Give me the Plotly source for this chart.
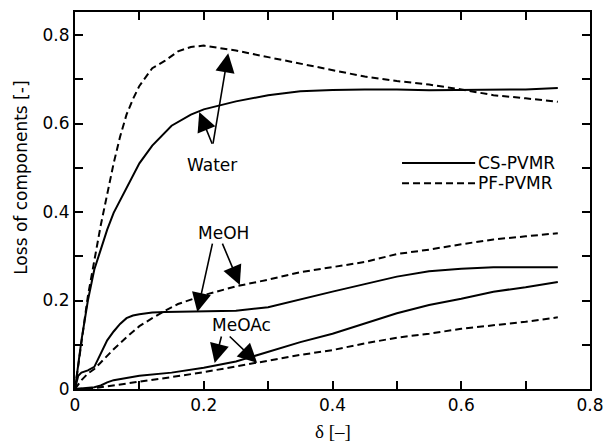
import plotly.graph_objects as go

# Water loss
water_cs_x = [0, 0.01, 0.02, 0.03, 0.04, 0.05, 0.06, 0.08, 0.10, 0.12, 0.15, 0.18, 0.20,
              0.25, 0.30, 0.35, 0.40, 0.45, 0.50, 0.55, 0.60, 0.65, 0.70, 0.75]
water_cs_y = [0, 0.11, 0.20, 0.27, 0.315, 0.36, 0.398, 0.455, 0.51, 0.55, 0.595, 0.62, 0.632,
              0.65, 0.664, 0.673, 0.676, 0.677, 0.677, 0.675, 0.676, 0.677, 0.677, 0.68]
water_pf_x = [0, 0.01, 0.02, 0.03, 0.04, 0.05, 0.06, 0.07, 0.08, 0.09, 0.10, 0.12, 0.14,
              0.16, 0.18, 0.20, 0.22, 0.25, 0.30, 0.35, 0.40, 0.45, 0.50, 0.55, 0.60,
              0.65, 0.70, 0.75]
water_pf_y = [0, 0.11, 0.21, 0.29, 0.37, 0.44, 0.51, 0.57, 0.62, 0.655, 0.685, 0.725, 0.742,
              0.763, 0.773, 0.776, 0.772, 0.765, 0.75, 0.735, 0.72, 0.706, 0.696, 0.688,
              0.677, 0.664, 0.657, 0.649]

# Methanol loss
meoh_cs_x = [0, 0.005, 0.01, 0.02, 0.03, 0.04, 0.05, 0.06, 0.07, 0.08, 0.09, 0.10, 0.12,
             0.14, 0.20, 0.25, 0.30, 0.35, 0.40, 0.45, 0.50, 0.55, 0.60, 0.65, 0.70, 0.75]
meoh_cs_y = [0, 0.03, 0.037, 0.042, 0.05, 0.08, 0.11, 0.13, 0.147, 0.16, 0.166, 0.169, 0.173,
             0.174, 0.175, 0.177, 0.185, 0.203, 0.22, 0.237, 0.254, 0.266, 0.272, 0.275,
             0.275, 0.275]
meoh_pf_x = [0, 0.01, 0.02, 0.03, 0.04, 0.06, 0.08, 0.10, 0.12, 0.14, 0.16, 0.18, 0.20,
             0.25, 0.30, 0.35, 0.40, 0.45, 0.50, 0.55, 0.60, 0.65, 0.70, 0.75]
meoh_pf_y = [0, 0.02, 0.035, 0.045, 0.06, 0.09, 0.117, 0.142, 0.16, 0.177, 0.192, 0.202,
             0.212, 0.232, 0.247, 0.264, 0.275, 0.287, 0.305, 0.315, 0.327, 0.338, 0.345,
             0.352]

# Methyl acetate loss
meoac_cs_x = [0, 0.02, 0.03, 0.04, 0.05, 0.06, 0.08, 0.10, 0.15, 0.20, 0.25, 0.30, 0.35,
              0.40, 0.45, 0.50, 0.55, 0.60, 0.65, 0.70, 0.75]
meoac_cs_y = [0, 0.002, 0.004, 0.008, 0.015, 0.02, 0.025, 0.03, 0.037, 0.048, 0.062, 0.084,
              0.106, 0.125, 0.148, 0.171, 0.19, 0.204, 0.22, 0.23, 0.242]
meoac_pf_x = [0, 0.03, 0.05, 0.07, 0.10, 0.15, 0.20, 0.25, 0.30, 0.35, 0.40, 0.45, 0.50,
              0.55, 0.60, 0.65, 0.70, 0.75]
meoac_pf_y = [0, 0.002, 0.006, 0.01, 0.016, 0.027, 0.038, 0.051, 0.065, 0.077, 0.088,
              0.103, 0.116, 0.125, 0.136, 0.144, 0.152, 0.162]

tick_vals = [0, 0.1, 0.2, 0.3, 0.4, 0.5, 0.6, 0.7, 0.8]
tick_text = ["0", "", "0.2", "", "0.4", "", "0.6", "", "0.8"]

series_labels = ["CS-PVMR", "PF-PVMR"]

FONT = "DejaVu Sans"
SOLID = dict(color="black", width=2)
DASHED = dict(color="black", width=2, dash="7px,4px")

fig = go.Figure()
for xs, ys, ln in [
    (water_cs_x, water_cs_y, SOLID), (water_pf_x, water_pf_y, DASHED),
    (meoh_cs_x, meoh_cs_y, SOLID), (meoh_pf_x, meoh_pf_y, DASHED),
    (meoac_cs_x, meoac_cs_y, SOLID), (meoac_pf_x, meoac_pf_y, DASHED),
]:
    fig.add_trace(go.Scatter(x=xs, y=ys, mode="lines", line=ln, showlegend=False,
                             hoverinfo="skip"))

axis_common = dict(
    showline=True, linewidth=2, linecolor="black", mirror="ticks",
    ticks="inside", ticklen=8, tickwidth=2, tickcolor="black",
    tickmode="array", tickvals=tick_vals, ticktext=tick_text,
    showgrid=False, zeroline=False, automargin=False,
    tickfont=dict(family=FONT, size=17, color="black"),
)

fig.update_layout(
    width=605, height=446,
    margin=dict(l=75, r=15, t=12, b=57, autoexpand=False),
    paper_bgcolor="white", plot_bgcolor="white",
    xaxis=dict(range=[0, 0.8], **axis_common),
    yaxis=dict(range=[0, 0.852], **axis_common),
    showlegend=False,
)

annotations = []
# Axis titles
annotations.append(dict(text="Loss of components [-]", xref="paper", yref="paper",
                        x=-0.105, y=0.56, xanchor="center", yanchor="middle",
                        textangle=-90, showarrow=False,
                        font=dict(family=FONT, size=17, color="black")))
annotations.append(dict(text="δ [–]", xref="paper", yref="paper",
                        x=0.5, y=-0.113, xanchor="center", yanchor="middle",
                        showarrow=False,
                        font=dict(family="Liberation Serif", size=19, color="black")))

# Component labels
labels = [("Water", 0.213, 0.506), ("MeOH", 0.230, 0.353), ("MeOAc", 0.259, 0.145)]
for t, lx, ly in labels:
    annotations.append(dict(text=t, x=lx, y=ly, xref="x", yref="y", showarrow=False,
                            font=dict(family=FONT, size=17, color="black")))

# Pointer arrows: (tail x, tail y, head x, head y)
arrows = [
    (0.214, 0.551, 0.193, 0.626), (0.214, 0.551, 0.238, 0.759),
    (0.214, 0.332, 0.190, 0.174), (0.228, 0.332, 0.256, 0.235),
    (0.228, 0.122, 0.217, 0.059), (0.238, 0.122, 0.283, 0.059),
]
for tx, ty, hx, hy in arrows:
    annotations.append(dict(text="", x=hx, y=hy, ax=tx, ay=ty, xref="x", yref="y",
                            axref="x", ayref="y", showarrow=True, arrowhead=2,
                            arrowsize=2.4, arrowwidth=1.6, arrowcolor="black",
                            standoff=0, startstandoff=0))

# Legend entries
legend_rows = [(0.5995, SOLID), (0.546, DASHED)]
shapes = []
for (ly, ln), name in zip(legend_rows, series_labels):
    shapes.append(dict(type="line", xref="paper", yref="paper", x0=0.635, x1=0.777,
                       y0=ly, y1=ly, line=ln))
    annotations.append(dict(text=name, xref="paper", yref="paper", x=0.779, y=ly,
                            xanchor="left", yanchor="middle", showarrow=False,
                            font=dict(family=FONT, size=17, color="black")))

fig.update_layout(annotations=annotations, shapes=shapes)
fig.write_html("out.html")
